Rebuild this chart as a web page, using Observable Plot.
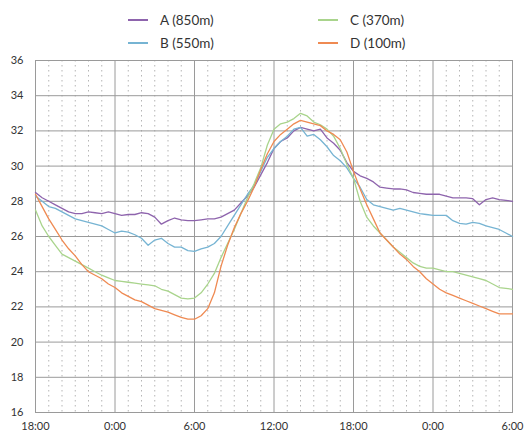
<!DOCTYPE html>
<html><head><meta charset="utf-8">
<script src="https://cdn.jsdelivr.net/npm/d3@7"></script>
<script src="https://cdn.jsdelivr.net/npm/@observablehq/plot@0.6"></script>
<style>
body{margin:0;background:#fff;font-family:Lato,sans-serif;}
#legend{position:relative;width:527px;height:50px;font-size:13.5px;color:#333}
.item{position:absolute;display:flex;align-items:center;height:16px;white-space:nowrap}
.sw{display:inline-block;width:20px;height:1.3px;margin-right:12px}
</style></head><body><div id="legend"></div><div id="chart"></div>
<script>
// time axis: hours after 18:00 on day 1
const hours = [0,0.5,1,1.5,2,2.5,3,3.5,4,4.5,5,5.5,6,6.5,7,7.5,8,8.5,9,9.5,10,10.5,11,11.5,12,12.5,13,13.5,14,14.5,15,15.5,16,16.5,17,17.5,18,18.5,19,19.5,20,20.5,21,21.5,22,22.5,23,23.5,24,24.5,25,25.5,26,26.5,27,27.5,28,28.5,29,29.5,30,30.5,31,31.5,32,32.5,33,33.5,34,34.5,35,35.5,36];
const hourGrid = [1,2,3,4,5,7,8,9,10,11,13,14,15,16,17,19,20,21,22,23,25,26,27,28,29,31,32,33,34,35];
const xTickHours = [0,6,12,18,24,30,36];
const xTickLabels = ["18:00","0:00","6:00","12:00","18:00","0:00","6:00"];
const yTicks = [16,18,20,22,24,26,28,30,32,34,36];
const seriesNames = ["A (850m)","B (550m)","C (370m)","D (100m)"];
const seriesColors = ["#8e64ad","#76b4d3","#a9d48c","#ef8a52"];

const seriesA = [28.5,28.2,28.0,27.8,27.6,27.4,27.3,27.3,27.4,27.35,27.3,27.4,27.3,27.2,27.25,27.25,27.35,27.3,27.1,26.7,26.9,27.05,26.95,26.9,26.9,26.95,27.0,27.0,27.1,27.3,27.5,27.9,28.3,28.8,29.5,30.2,31.0,31.4,31.6,32.0,32.2,32.1,32.0,32.1,31.6,31.3,30.9,30.2,29.7,29.45,29.3,29.1,28.8,28.75,28.7,28.7,28.65,28.5,28.45,28.4,28.4,28.4,28.3,28.2,28.2,28.2,28.15,27.8,28.1,28.2,28.1,28.05,28.0];
const seriesB = [28.3,28.0,27.7,27.6,27.4,27.2,27.0,26.9,26.8,26.7,26.6,26.4,26.2,26.3,26.25,26.1,25.9,25.5,25.8,25.9,25.6,25.4,25.4,25.2,25.15,25.3,25.4,25.6,26.0,26.6,27.2,27.8,28.4,28.9,29.7,30.5,31.0,31.4,31.7,32.1,32.2,31.7,31.8,31.5,31.1,30.6,30.3,29.9,29.3,28.8,28.1,27.8,27.7,27.6,27.5,27.6,27.5,27.4,27.3,27.25,27.2,27.2,27.2,26.9,26.75,26.7,26.8,26.75,26.6,26.5,26.4,26.2,26.0];
const seriesC = [27.5,26.6,26.0,25.5,25.0,24.8,24.6,24.4,24.2,24.0,23.8,23.65,23.5,23.45,23.4,23.35,23.3,23.25,23.2,23.0,22.9,22.7,22.5,22.45,22.5,22.8,23.3,23.9,24.8,25.6,26.4,27.3,28.2,29.0,29.9,31.2,32.1,32.4,32.5,32.7,33.0,32.85,32.5,32.35,32.1,31.7,31.0,30.1,29.3,28.0,27.1,26.6,26.2,25.8,25.4,25.1,24.8,24.5,24.3,24.2,24.2,24.1,24.0,24.0,23.9,23.8,23.7,23.6,23.5,23.3,23.1,23.05,23.0];
const seriesD = [28.4,27.7,27.0,26.4,25.8,25.3,24.9,24.4,24.0,23.8,23.6,23.3,23.1,22.8,22.6,22.4,22.3,22.1,21.9,21.8,21.7,21.55,21.4,21.3,21.3,21.5,21.9,22.8,24.3,25.5,26.5,27.3,28.0,28.8,29.8,30.7,31.4,31.8,32.1,32.4,32.6,32.5,32.4,32.3,32.0,31.8,31.5,30.8,29.7,28.7,27.8,27.0,26.2,25.8,25.4,25.0,24.7,24.3,24.0,23.6,23.3,23.0,22.8,22.65,22.5,22.35,22.2,22.05,21.9,21.75,21.6,21.6,21.6];

const allSeries = [seriesA, seriesB, seriesC, seriesD];
const rows = [];
allSeries.forEach((s, i) => s.forEach((v, j) => rows.push({hour: hours[j], value: v, series: seriesNames[i]})));

// legend (HTML, above the SVG)
const legendPos = [[128,12],[128,35],[318,12],[318,35]];
const leg = document.getElementById("legend");
seriesNames.forEach((n, i) => {
  const it = document.createElement("div");
  it.className = "item";
  it.style.left = legendPos[i][0] + "px";
  it.style.top = legendPos[i][1] + "px";
  const sw = document.createElement("span");
  sw.className = "sw";
  sw.style.background = seriesColors[i];
  it.appendChild(sw);
  const t = document.createElement("span");
  t.textContent = n;
  it.appendChild(t);
  leg.appendChild(it);
});

const chart = Plot.plot({
  width: 527, height: 387,
  marginTop: 10, marginBottom: 25, marginLeft: 35, marginRight: 15,
  style: {fontFamily: "Lato, sans-serif", fontSize: "11px", color: "#333", background: "#fff"},
  x: {domain: [0, 36]},
  y: {domain: [16, 36]},
  color: {domain: seriesNames, range: seriesColors},
  marks: [
    Plot.gridX(hourGrid, {stroke: "#b5b5b5", strokeOpacity: 1, strokeDasharray: "1.5,3.5"}),
    Plot.gridX(xTickHours, {stroke: "#9a9a9a", strokeOpacity: 1}),
    Plot.gridY(yTicks, {stroke: "#9a9a9a", strokeOpacity: 1}),
    Plot.frame({stroke: "#9a9a9a"}),
    Plot.axisX(xTickHours, {tickSize: 0, tickPadding: 10, tickFormat: d => xTickLabels[xTickHours.indexOf(d)], label: null, fill: "#333"}),
    Plot.axisY(yTicks, {tickSize: 0, tickPadding: 12, label: null, fill: "#333"}),
    Plot.lineY(rows, {x: "hour", y: "value", z: "series", stroke: "series", strokeWidth: 1.3})
  ]
});
document.getElementById("chart").appendChild(chart);
</script>
</body></html>
